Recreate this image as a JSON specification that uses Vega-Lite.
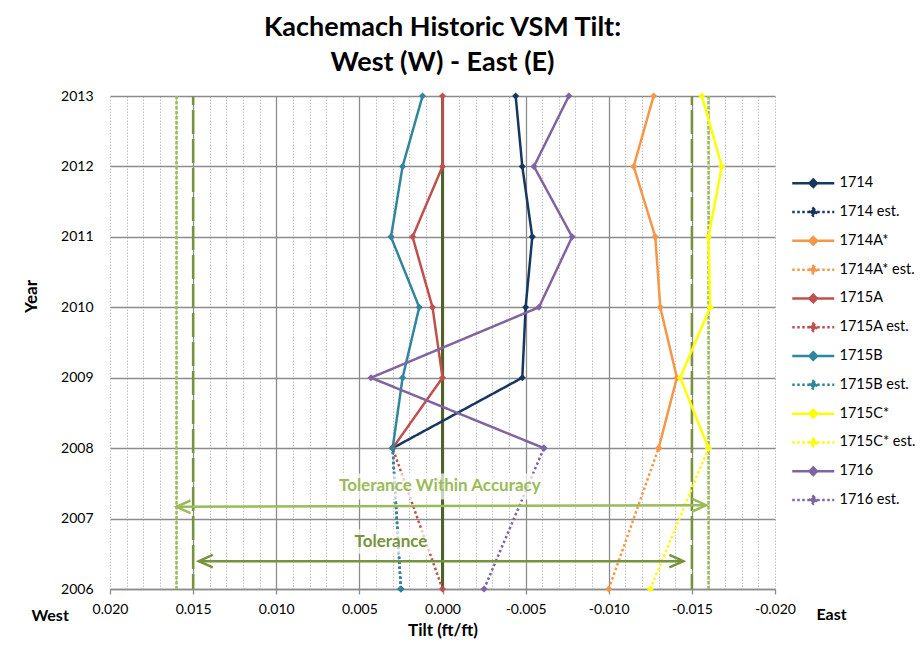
{
  "$schema": "https://vega.github.io/schema/vega-lite/v6.json",
  "width": 665,
  "height": 493,
  "autosize": {"type": "none"},
  "padding": {"left": 110, "top": 96, "right": 147, "bottom": 83},
  "background": "white",
  "title": {
    "text": ["Kachemach Historic VSM Tilt:", "West (W) - East (E)"],
    "font": "Lato",
    "fontSize": 27,
    "fontWeight": "bold",
    "lineHeight": 35,
    "anchor": "middle",
    "color": "black",
    "offset": 12
  },
  "config": {
    "font": "Lato",
    "view": {"stroke": null},
    "legend": {
      "orient": "none",
      "legendX": 696,
      "legendY": 80,
      "padding": 0,
      "symbolType": "M-4.2,0L4.2,0M0,-0.75L0.75,0L0,0.75L-0.75,0Z",
      "symbolSize": 100,
      "symbolStrokeWidth": 2.5,
      "labelFontSize": 14.5,
      "labelColor": "black",
      "labelOffset": 19,
      "rowPadding": 10.8
    }
  },
  "datasets": {
    "series": [
      {"series": "1714", "year": 2013, "tilt": -0.0044},
      {"series": "1714", "year": 2012, "tilt": -0.0048},
      {"series": "1714", "year": 2011, "tilt": -0.0054},
      {"series": "1714", "year": 2010, "tilt": -0.0050},
      {"series": "1714", "year": 2009, "tilt": -0.0048},
      {"series": "1714", "year": 2008, "tilt": 0.0030},
      {"series": "1714 est.", "year": 2008, "tilt": 0.0030},
      {"series": "1714 est.", "year": 2006, "tilt": 0.0025},
      {"series": "1714A*", "year": 2013, "tilt": -0.0127},
      {"series": "1714A*", "year": 2012, "tilt": -0.0115},
      {"series": "1714A*", "year": 2011, "tilt": -0.0128},
      {"series": "1714A*", "year": 2010, "tilt": -0.0131},
      {"series": "1714A*", "year": 2009, "tilt": -0.0141},
      {"series": "1714A*", "year": 2008, "tilt": -0.0130},
      {"series": "1714A* est.", "year": 2008, "tilt": -0.0130},
      {"series": "1714A* est.", "year": 2006, "tilt": -0.0100},
      {"series": "1715A", "year": 2013, "tilt": 0.0000},
      {"series": "1715A", "year": 2012, "tilt": 0.0000},
      {"series": "1715A", "year": 2011, "tilt": 0.0018},
      {"series": "1715A", "year": 2010, "tilt": 0.0006},
      {"series": "1715A", "year": 2009, "tilt": 0.0000},
      {"series": "1715A", "year": 2008, "tilt": 0.0030},
      {"series": "1715A est.", "year": 2008, "tilt": 0.0030},
      {"series": "1715A est.", "year": 2006, "tilt": 0.0000},
      {"series": "1715B", "year": 2013, "tilt": 0.0012},
      {"series": "1715B", "year": 2012, "tilt": 0.0024},
      {"series": "1715B", "year": 2011, "tilt": 0.0031},
      {"series": "1715B", "year": 2010, "tilt": 0.0014},
      {"series": "1715B", "year": 2009, "tilt": 0.0024},
      {"series": "1715B", "year": 2008, "tilt": 0.0030},
      {"series": "1715B est.", "year": 2008, "tilt": 0.0030},
      {"series": "1715B est.", "year": 2006, "tilt": 0.0025},
      {"series": "1715C*", "year": 2013, "tilt": -0.0156},
      {"series": "1715C*", "year": 2012, "tilt": -0.0168},
      {"series": "1715C*", "year": 2011, "tilt": -0.0160},
      {"series": "1715C*", "year": 2010, "tilt": -0.0161},
      {"series": "1715C*", "year": 2009, "tilt": -0.0143},
      {"series": "1715C*", "year": 2008, "tilt": -0.0160},
      {"series": "1715C* est.", "year": 2008, "tilt": -0.0160},
      {"series": "1715C* est.", "year": 2006, "tilt": -0.0125},
      {"series": "1716", "year": 2013, "tilt": -0.0076},
      {"series": "1716", "year": 2012, "tilt": -0.0055},
      {"series": "1716", "year": 2011, "tilt": -0.0078},
      {"series": "1716", "year": 2010, "tilt": -0.0058},
      {"series": "1716", "year": 2009, "tilt": 0.0043},
      {"series": "1716", "year": 2008, "tilt": -0.0061},
      {"series": "1716 est.", "year": 2008, "tilt": -0.0061},
      {"series": "1716 est.", "year": 2006, "tilt": -0.0025}
    ],
    "refs": [
      {"kind": "zero", "tilt": 0.0, "year": 2006, "year2": 2013},
      {"kind": "tol", "tilt": 0.015, "year": 2013, "year2": 2006},
      {"kind": "tol", "tilt": -0.015, "year": 2013, "year2": 2006},
      {"kind": "acc", "tilt": 0.016, "year": 2013, "year2": 2006},
      {"kind": "acc", "tilt": -0.016, "year": 2013, "year2": 2006}
    ],
    "arrows": [
      {"arrow": "acc", "tilt": 0.016, "tilt2": -0.01586, "year": 2007.167, "year2": 2007.19},
      {"arrow": "tol", "tilt": 0.01466, "tilt2": -0.01449, "year": 2006.395, "year2": 2006.395}
    ],
    "heads": [
      {"arrow": "acc", "dir": "left", "tilt": 0.016, "year": 2007.167},
      {"arrow": "acc", "dir": "right", "tilt": -0.01586, "year": 2007.19},
      {"arrow": "tol", "dir": "left", "tilt": 0.01466, "year": 2006.395},
      {"arrow": "tol", "dir": "right", "tilt": -0.01449, "year": 2006.395}
    ],
    "boxes": [
      {"tilt": 0.0066, "tilt2": -0.0063, "year": 2007.64, "year2": 2007.27},
      {"tilt": 0.0057, "tilt2": 0.0005, "year": 2006.85, "year2": 2006.5}
    ],
    "notes": [
      {"label": "Tolerance Within Accuracy", "tilt": 0.00016, "year": 2007.46},
      {"label": "Tolerance", "tilt": 0.0031, "year": 2006.67}
    ],
    "sides": [
      {"label": "West", "tilt": 0.0236, "year": 2005.62},
      {"label": "East", "tilt": -0.0234, "year": 2005.63}
    ]
  },
  "encoding": {
    "x": {
      "field": "tilt",
      "type": "quantitative",
      "scale": {"domain": [-0.02, 0.02], "reverse": true, "nice": false, "zero": false},
      "axis": {
        "values": [-0.02, -0.019, -0.018, -0.017, -0.016, -0.015, -0.014, -0.013, -0.012, -0.011, -0.01, -0.009, -0.008, -0.007, -0.006, -0.005, -0.004, -0.003, -0.002, -0.001, 0, 0.001, 0.002, 0.003, 0.004, 0.005, 0.006, 0.007, 0.008, 0.009, 0.01, 0.011, 0.012, 0.013, 0.014, 0.015, 0.016, 0.017, 0.018, 0.019, 0.02],
        "title": "Tilt (ft/ft)",
        "titleFontSize": 17,
        "titleFontWeight": "bold",
        "titleColor": "black",
        "titlePadding": 6,
        "labelExpr": "abs(round(datum.value*1000)) % 5 == 0 ? replace(format(datum.value, '.3f'), '\u2212', '-') : ''",
        "labelFontSize": 14,
        "labelColor": "black",
        "labelPadding": 8,
        "labelOverlap": false,
        "labelFlush": false,
        "grid": true,
        "gridColor": {"condition": {"test": "abs(round(datum.value*1000)) % 5 == 0 && abs(datum.value) < 0.019", "value": "#8C8C8C"}, "value": "#C4C4C4"},
        "gridDash": {"condition": {"test": "abs(round(datum.value*1000)) % 5 == 0 && abs(datum.value) < 0.019", "value": [1, 0]}, "value": [1.5, 1.5]},
        "gridWidth": {"condition": {"test": "abs(round(datum.value*1000)) % 5 == 0 && abs(datum.value) < 0.019", "value": 1.3}, "value": 1},
        "tickSize": {"condition": {"test": "abs(round(datum.value*1000)) % 5 == 0", "value": 5}, "value": 0},
        "tickColor": "#8C8C8C",
        "tickWidth": 1.3,
        "domainColor": "#8C8C8C",
        "domainWidth": 1.5
      }
    },
    "y": {
      "field": "year",
      "type": "quantitative",
      "scale": {"domain": [2006, 2013], "nice": false, "zero": false},
      "axis": {
        "values": [2006, 2007, 2008, 2009, 2010, 2011, 2012, 2013],
        "format": "d",
        "title": "Year",
        "titleFontSize": 17,
        "titleFontWeight": "bold",
        "titleColor": "black",
        "titlePadding": 20,
        "titleY": 200,
        "labelFontSize": 14,
        "labelColor": "black",
        "labelPadding": 17,
        "ticks": false,
        "domain": false,
        "grid": true,
        "gridColor": "#8C8C8C",
        "gridWidth": 1.3
      }
    }
  },
  "layer": [
    {
      "data": {"name": "refs"},
      "transform": [{"filter": "datum.kind == 'zero'"}],
      "mark": {"type": "rule", "color": "#4F6228", "strokeWidth": 3},
      "encoding": {"y2": {"field": "year2"}}
    },
    {
      "data": {"name": "refs"},
      "transform": [{"filter": "datum.kind == 'tol'"}],
      "mark": {"type": "rule", "color": "#77933C", "strokeWidth": 2.5, "strokeDash": [24, 5], "strokeDashOffset": 15},
      "encoding": {"y2": {"field": "year2"}}
    },
    {
      "data": {"name": "refs"},
      "transform": [{"filter": "datum.kind == 'acc'"}],
      "mark": {"type": "rule", "color": "#9BBB59", "strokeWidth": 2.5, "strokeDash": [3.5, 1.5]},
      "encoding": {"y2": {"field": "year2"}}
    },
    {
      "data": {"name": "series"},
      "mark": {"type": "line", "strokeWidth": 2.5, "strokeCap": "butt"},
      "encoding": {
        "order": {"field": "year", "type": "quantitative"},
        "color": {
          "field": "series",
          "type": "nominal",
          "scale": {
            "domain": ["1714", "1714 est.", "1714A*", "1714A* est.", "1715A", "1715A est.", "1715B", "1715B est.", "1715C*", "1715C* est.", "1716", "1716 est."],
            "range": ["#17375E", "#17375E", "#F79646", "#F79646", "#C0504D", "#C0504D", "#31859C", "#31859C", "#FFFF00", "#FFFF00", "#8064A2", "#8064A2"]
          },
          "legend": {
            "title": null,
            "encode": {"symbols": {"update": {"fill": {"scale": "color", "field": "value"}}}}
          }
        },
        "strokeDash": {
          "field": "series",
          "type": "nominal",
          "scale": {
            "domain": ["1714", "1714 est.", "1714A*", "1714A* est.", "1715A", "1715A est.", "1715B", "1715B est.", "1715C*", "1715C* est.", "1716", "1716 est."],
            "range": [[1, 0], [2.5, 2.5], [1, 0], [2.5, 2.5], [1, 0], [2.5, 2.5], [1, 0], [2.5, 2.5], [1, 0], [2.5, 2.5], [1, 0], [2.5, 2.5]]
          },
          "legend": {"title": null}
        }
      }
    },
    {
      "data": {"name": "series"},
      "mark": {"type": "point", "shape": "diamond", "filled": true, "size": 50, "opacity": 1},
      "encoding": {
        "color": {"field": "series", "type": "nominal", "legend": null}
      }
    },
    {
      "data": {"name": "boxes"},
      "mark": {"type": "rect", "color": "white", "opacity": 0.7},
      "encoding": {"x2": {"field": "tilt2"}, "y2": {"field": "year2"}}
    },
    {
      "data": {"name": "notes"},
      "mark": {"type": "text", "fontSize": 17, "fontWeight": "bold", "align": "center", "baseline": "middle"},
      "encoding": {
        "text": {"field": "label"},
        "color": {"condition": {"test": "datum.label == 'Tolerance'", "value": "#77933C"}, "value": "#9BBB59"}
      }
    },
    {
      "data": {"name": "arrows"},
      "mark": {"type": "rule", "strokeWidth": 2.5},
      "encoding": {
        "x2": {"field": "tilt2"},
        "y2": {"field": "year2"},
        "color": {"condition": {"test": "datum.arrow == 'tol'", "value": "#77933C"}, "value": "#9BBB59"}
      }
    },
    {
      "data": {"name": "heads"},
      "mark": {"type": "point", "filled": false, "size": 784, "strokeWidth": 2.5, "opacity": 1},
      "encoding": {
        "shape": {
          "field": "dir",
          "type": "nominal",
          "scale": {"domain": ["left", "right"], "range": ["M1,-0.45L0,0L1,0.45", "M-1,-0.45L0,0L-1,0.45"]},
          "legend": null
        },
        "color": {"condition": {"test": "datum.arrow == 'tol'", "value": "#77933C"}, "value": "#9BBB59"}
      }
    },
    {
      "data": {"name": "sides"},
      "mark": {"type": "text", "fontSize": 16, "fontWeight": "bold", "align": "center", "baseline": "middle", "color": "black"},
      "encoding": {"text": {"field": "label"}}
    }
  ]
}
